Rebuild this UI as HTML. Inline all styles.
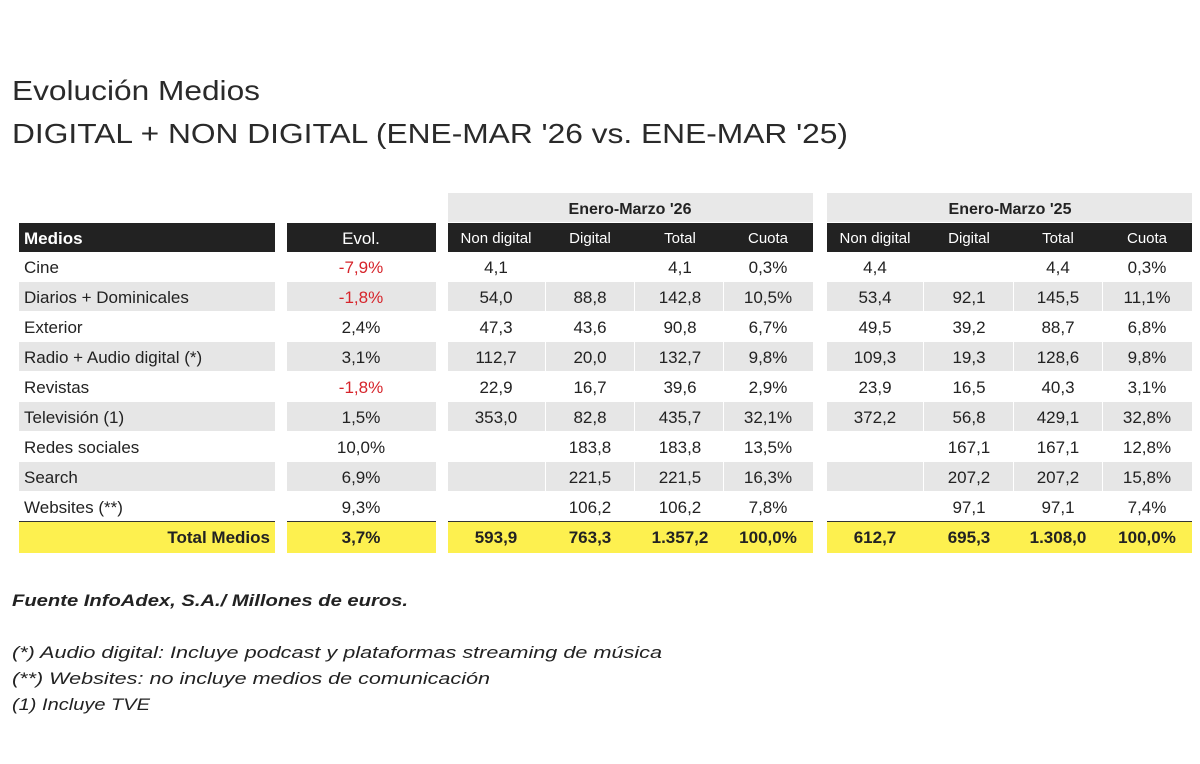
<!DOCTYPE html>
<html><head><meta charset="utf-8"><style>
html,body{margin:0;padding:0;background:#fff;width:1200px;height:764px;overflow:hidden}
svg{display:block}
text{font-family:"Liberation Sans",sans-serif;fill:#222}
</style></head><body>
<svg id="s" width="1200" height="764" xmlns="http://www.w3.org/2000/svg">
<text x="12" y="100" font-size="28" textLength="248" lengthAdjust="spacingAndGlyphs" style="fill:#2a2a2a">Evolución Medios</text>
<text x="12" y="143" font-size="28" textLength="836" lengthAdjust="spacingAndGlyphs" style="fill:#2a2a2a">DIGITAL + NON DIGITAL (ENE-MAR '26 vs. ENE-MAR '25)</text>
<text x="12" y="606" font-size="17" font-weight="bold" font-style="italic" textLength="396" lengthAdjust="spacingAndGlyphs">Fuente InfoAdex, S.A./ Millones de euros.</text>
<text x="12" y="658" font-size="17" font-style="italic" textLength="650" lengthAdjust="spacingAndGlyphs">(*) Audio digital: Incluye podcast y plataformas streaming de música</text>
<text x="12" y="684" font-size="17" font-style="italic" textLength="478" lengthAdjust="spacingAndGlyphs">(**) Websites: no incluye medios de comunicación</text>
<text x="12" y="710" font-size="17" font-style="italic" textLength="138" lengthAdjust="spacingAndGlyphs">(1) Incluye TVE</text>
</svg>
<script>
var s=document.getElementById('s'),NS='http://www.w3.org/2000/svg';
function R(x,y,w,h,f){var r=document.createElementNS(NS,'rect');r.setAttribute('x',x);r.setAttribute('y',y);r.setAttribute('width',w);r.setAttribute('height',h);r.setAttribute('fill',f);s.insertBefore(r,s.firstChild);}
function T(x,y,t,a,o){o=o||{};var e=document.createElementNS(NS,'text');e.setAttribute('x',x);e.setAttribute('y',y);e.setAttribute('font-size',o.fs||17);e.setAttribute('text-anchor',a);if(o.b)e.setAttribute('font-weight','bold');if(o.c)e.setAttribute('style','fill:'+o.c);e.textContent=t;s.appendChild(e);}
var blocks=[[19,275],[287,436],[448,545],[546,634],[635,723],[724,813],[827,923],[924,1013],[1014,1102],[1103,1192]];
var cx=[0,361,496,590,680,768,875,969,1058,1147];
// group header
R(448,193,365,29,'#e8e8e8');R(827,193,365,29,'#e8e8e8');
T(630,214,"Enero-Marzo '26",'middle',{b:1,fs:16});T(1010,214,"Enero-Marzo '25",'middle',{b:1,fs:16});
// header
R(19,223,256,29,'#222');R(287,223,149,29,'#222');R(448,223,365,29,'#222');R(827,223,365,29,'#222');
T(24,244,'Medios','start',{b:1,c:'#fff'});T(361,244,'Evol.','middle',{c:'#fff'});
var hd=['Non digital','Digital','Total','Cuota'];
for(var i=0;i<4;i++){T(cx[2+i],243,hd[i],'middle',{c:'#fff',fs:15});T(cx[6+i],243,hd[i],'middle',{c:'#fff',fs:15});}
var rows=[
['Cine','-7,9%','4,1','','4,1','0,3%','4,4','','4,4','0,3%'],
['Diarios + Dominicales','-1,8%','54,0','88,8','142,8','10,5%','53,4','92,1','145,5','11,1%'],
['Exterior','2,4%','47,3','43,6','90,8','6,7%','49,5','39,2','88,7','6,8%'],
['Radio + Audio digital (*)','3,1%','112,7','20,0','132,7','9,8%','109,3','19,3','128,6','9,8%'],
['Revistas','-1,8%','22,9','16,7','39,6','2,9%','23,9','16,5','40,3','3,1%'],
['Televisión (1)','1,5%','353,0','82,8','435,7','32,1%','372,2','56,8','429,1','32,8%'],
['Redes sociales','10,0%','','183,8','183,8','13,5%','','167,1','167,1','12,8%'],
['Search','6,9%','','221,5','221,5','16,3%','','207,2','207,2','15,8%'],
['Websites (**)','9,3%','','106,2','106,2','7,8%','','97,1','97,1','7,4%']];
for(var r=0;r<rows.length;r++){
 var c=267+30*r, by=c+6;
 if(r%2==1){for(var b=0;b<blocks.length;b++)R(blocks[b][0],c-15,blocks[b][1]-blocks[b][0],29,'#e6e6e6');}
 var row=rows[r];
 T(24,by,row[0],'start');
 T(361,by,row[1],'middle',row[1][0]=='-'?{c:'#d6242b'}:{});
 for(var k=2;k<10;k++)if(row[k])T(cx[k],by,row[k],'middle');
}
// total
var g=[[19,275],[287,436],[448,813],[827,1192]];
g.forEach(function(p){R(p[0],522,p[1]-p[0],31,'#fdf04f');R(p[0],521,p[1]-p[0],2,'#333');});
T(270,543,'Total Medios','end',{b:1});T(361,543,'3,7%','middle',{b:1});
var tv=['593,9','763,3','1.357,2','100,0%','612,7','695,3','1.308,0','100,0%'];
for(var k=0;k<8;k++)T(cx[k+2],543,tv[k],'middle',{b:1});
</script>
</body></html>
